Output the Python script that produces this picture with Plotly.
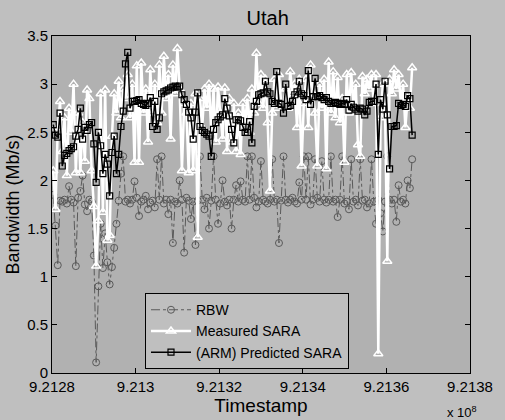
import plotly.graph_objects as go

timestamps = [
    921280300, 921280840, 921281380, 921281920, 921282460, 921283000, 921283540, 921284080, 921284620, 921285160,
    921285700, 921286240, 921286780, 921287320, 921287860, 921288400, 921288940, 921289480, 921290020, 921290560,
    921291100, 921291640, 921292180, 921292720, 921293260, 921293800, 921294340, 921294880, 921295420, 921295960,
    921296500, 921297040, 921297580, 921298120, 921298660, 921299200, 921299740, 921300280, 921300820, 921301360,
    921301900, 921302440, 921302980, 921303520, 921304060, 921304600, 921305140, 921305680, 921306220, 921306760,
    921307300, 921307840, 921308380, 921308920, 921309460, 921310000, 921310540, 921311080, 921311620, 921312160,
    921312700, 921313240, 921313780, 921314320, 921314860, 921315400, 921315940, 921316480, 921317020, 921317560,
    921318100, 921318640, 921319180, 921319720, 921320260, 921320800, 921321340, 921321880, 921322420, 921322960,
    921323500, 921324040, 921324580, 921325120, 921325660, 921326200, 921326740, 921327280, 921327820, 921328360,
    921328900, 921329440, 921329980, 921330520, 921331060, 921331600, 921332140, 921332680, 921333220, 921333760,
    921334300, 921334840, 921335380, 921335920, 921336460, 921337000, 921337540, 921338080, 921338620, 921339160,
    921339700, 921340240, 921340780, 921341320, 921341860, 921342400, 921342940, 921343480, 921344020, 921344560,
    921345100, 921345640, 921346180, 921346720, 921347260, 921347800, 921348340, 921348880, 921349420, 921349960,
    921350500, 921351040, 921351580, 921352120, 921352660, 921353200, 921353740, 921354280, 921354820, 921355360,
    921355900, 921356440, 921356980, 921357520, 921358060, 921358600, 921359140, 921359680, 921360220, 921360760,
    921361300, 921361840, 921362380, 921362920, 921363460, 921364000, 921364540, 921365080, 921365620, 921366160,
]

rbw = [
    1.85, 1.53, 1.12, 1.79, 1.78, 1.80, 1.76, 1.94, 1.80, 1.77,
    1.11, 1.82, 1.89, 2.05, 1.75, 1.68, 1.80, 1.78, 1.22, 0.11,
    0.90, 1.55, 1.09, 1.45, 1.15, 0.92, 1.10, 1.30, 1.55, 1.79,
    2.07, 2.25, 1.78, 1.80, 1.76, 1.80, 1.99, 1.82, 1.63, 1.78,
    1.80, 1.84, 1.70, 1.77, 1.79, 1.72, 2.22, 1.80, 2.25, 1.76,
    1.80, 1.65, 1.80, 1.35, 1.78, 1.76, 2.00, 1.80, 1.25, 1.82,
    1.79, 1.60, 1.78, 1.33, 1.79, 2.25, 1.80, 1.70, 1.82, 1.50,
    1.79, 2.25, 1.80, 1.55, 1.76, 2.00, 1.78, 1.74, 1.80, 1.50,
    1.80, 1.95, 1.78, 1.99, 1.80, 1.78, 2.25, 1.80, 2.25, 1.82,
    1.72, 1.78, 2.20, 1.80, 1.78, 1.76, 1.80, 2.22, 1.78, 1.80,
    1.35, 1.79, 2.25, 1.80, 1.77, 1.80, 1.82, 1.78, 1.76, 1.98,
    1.80, 2.25, 1.80, 2.25, 1.75, 1.80, 2.22, 1.82, 1.78, 2.20,
    1.80, 1.77, 1.80, 2.25, 1.78, 1.80, 1.62, 1.80, 2.25, 1.76,
    1.78, 1.70, 2.22, 1.78, 1.80, 1.74, 2.22, 1.79, 1.80, 1.72,
    1.76, 2.22, 1.78, 1.55, 1.80, 1.66, 1.47, 1.78, 2.25, 1.80,
    1.76, 1.80, 1.57, 1.95, 1.78, 1.80, 1.76, 2.00, 1.92, 2.22,
]

measured_sara = [
    2.10, 1.70, 2.55, 2.82, 2.30, 2.65, 2.05, 2.75, 2.50, 3.00,
    2.08, 2.70, 2.08, 2.60, 2.20, 2.94, 2.85, 2.10, 1.73, 1.11,
    1.58, 2.90, 1.67, 2.94, 1.38, 1.43, 2.46, 2.90, 2.70, 3.03,
    2.65, 2.95, 2.85, 3.10, 2.65, 3.00, 2.19, 3.19, 2.19, 3.22,
    2.70, 2.95, 2.40, 3.15, 2.70, 3.00, 2.60, 3.20, 2.70, 3.29,
    2.85, 3.10, 2.43, 3.20, 2.90, 3.37, 2.95, 2.10, 2.80, 2.70,
    2.08, 2.80, 2.10, 2.90, 1.41, 2.85, 2.55, 2.95, 2.75, 3.00,
    2.50, 2.95, 2.40, 2.97, 2.70, 2.43, 2.96, 2.30, 2.85, 2.40,
    2.80, 2.30, 2.70, 2.27, 2.80, 2.60, 2.85, 2.50, 2.95, 2.70,
    3.32, 2.80, 3.10, 2.75, 3.05, 2.60, 1.89, 2.70, 3.05, 2.75,
    3.10, 2.80, 2.78, 2.95, 2.75, 3.13, 2.90, 3.00, 2.55, 3.05,
    2.15, 2.80, 3.05, 2.55, 3.20, 2.90, 2.70, 2.15, 3.00, 2.75,
    3.05, 2.12, 3.23, 2.70, 3.13, 2.65, 3.07, 2.60, 2.85, 2.19,
    3.10, 2.70, 3.12, 2.80, 3.00, 2.37, 2.25, 3.08, 2.90, 3.05,
    2.95, 3.10, 2.80, 3.10, 0.20, 2.65, 3.00, 2.70, 1.16, 3.05,
    2.90, 3.15, 2.95, 3.10, 2.80, 3.00, 2.55, 2.85, 2.75, 3.17,
]

predicted_sara = [
    2.58, 2.47, 2.45, 2.70, 2.15, 2.26, 2.28, 2.31, 2.33, 2.35,
    2.46, 2.53, 2.75, 2.43, 2.55, 2.52, 2.58, 2.60, 2.38, 1.98,
    2.50, 2.36, 2.07, 2.27, 2.17, 1.84, 2.29, 2.46, 2.07, 2.27,
    2.56, 2.72, 3.21, 3.33, 2.75, 2.82, 2.82, 2.83, 2.84, 2.80,
    2.79, 2.78, 2.80, 2.86, 2.56, 2.82, 2.53, 2.65, 2.90, 2.92,
    2.93, 2.94, 2.96, 2.97, 2.98, 2.97, 2.98, 2.89, 2.84, 2.79,
    2.71, 2.65, 2.43, 2.71, 2.91, 2.56, 2.52, 2.50, 2.48, 2.46,
    2.25, 2.53, 2.60, 2.63, 2.66, 2.68, 2.85, 2.75, 2.67, 2.53,
    2.39, 2.63, 2.63, 2.62, 2.55, 2.50, 2.50, 2.61, 2.39, 2.77,
    2.82, 2.89, 2.90, 2.91, 3.03, 2.92, 2.90, 2.82, 2.80, 3.13,
    2.80, 2.79, 2.70, 3.00, 2.77, 2.78, 2.82, 2.89, 2.92, 3.03,
    2.90, 2.88, 2.84, 3.14, 2.79, 2.87, 3.06, 2.87, 2.88, 2.86,
    2.84, 2.86, 2.82, 2.80, 2.80, 2.81, 2.80, 2.79, 2.80, 2.79,
    2.84, 2.73, 2.79, 2.76, 2.74, 2.72, 2.75, 2.74, 2.68, 2.72,
    2.81, 2.82, 2.82, 3.00, 2.27, 2.84, 2.74, 3.03, 2.68, 2.12,
    2.56, 2.56, 2.57, 2.80, 2.78, 2.79, 2.77, 2.88, 2.85, 2.47,
]

x_tick_vals = [9.2128, 9.2130, 9.2132, 9.2134, 9.2136, 9.2138]
x_tick_text = ["9.2128", "9.213", "9.2132", "9.2134", "9.2136", "9.2138"]
y_tick_vals = [0, 0.5, 1, 1.5, 2, 2.5, 3, 3.5]
y_tick_text = ["0", "0.5", "1", "1.5", "2", "2.5", "3", "3.5"]

x_scaled = [t / 1e8 for t in timestamps]

FONT = "Liberation Sans, Arial, Helvetica, sans-serif"
FIG_BG = "#bfbfbf"
PLOT_BG = "#b1b1b1"

fig = go.Figure()

fig.add_trace(go.Scatter(
    x=x_scaled, y=rbw, name="RBW", mode="lines+markers",
    line=dict(color="#5a5a5a", width=1, dash="dashdot"),
    marker=dict(symbol="circle-open", size=7, color="#5a5a5a", line=dict(width=1)),
))
fig.add_trace(go.Scatter(
    x=x_scaled, y=measured_sara, name="Measured SARA", mode="lines+markers",
    line=dict(color="white", width=2.5),
    marker=dict(symbol="triangle-up-open", size=8, color="white", line=dict(width=1.5)),
))
fig.add_trace(go.Scatter(
    x=x_scaled, y=predicted_sara, name="(ARM) Predicted SARA", mode="lines+markers",
    line=dict(color="black", width=1.5),
    marker=dict(symbol="square-open", size=6, color="black", line=dict(width=1.2)),
))

fig.update_layout(
    width=505, height=420,
    margin=dict(l=52, r=23, t=36, b=45),
    paper_bgcolor=FIG_BG, plot_bgcolor=PLOT_BG,
    font=dict(family=FONT, size=15, color="black"),
    title=dict(text="Utah", x=0.53, xref="container", y=0.958, yref="container",
               xanchor="center", yanchor="middle", font=dict(size=20)),
    showlegend=True,
    legend=dict(x=0.222, y=0.012, xanchor="left", yanchor="bottom",
                bgcolor=FIG_BG, bordercolor="black", borderwidth=1.2,
                font=dict(size=14), tracegroupgap=0, itemwidth=40),
    xaxis=dict(range=[9.2128, 9.2138], tickvals=x_tick_vals, ticktext=x_tick_text,
               ticks="inside", ticklen=5, tickcolor="black", mirror="allticks",
               showline=True, linecolor="black", linewidth=1, showgrid=False,
               zeroline=False,
               title=dict(text="Timestamp", font=dict(size=19), standoff=0)),
    yaxis=dict(range=[0, 3.5], tickvals=y_tick_vals, ticktext=y_tick_text,
               ticks="inside", ticklen=5, tickcolor="black", mirror="allticks",
               showline=True, linecolor="black", linewidth=1, showgrid=False,
               zeroline=False,
               title=dict(text="Bandwidth (Mb/s)", font=dict(size=18), standoff=2)),
    annotations=[dict(text="x 10<sup>8</sup>", xref="paper", yref="paper",
                      x=0.98, y=-0.085, xanchor="center", yanchor="top",
                      showarrow=False, font=dict(size=13))],
)

fig.write_html("out.html")
